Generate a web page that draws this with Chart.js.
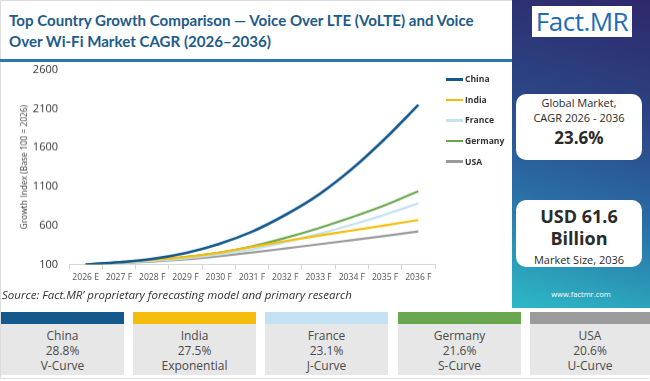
<!DOCTYPE html>
<html>
<head>
<meta charset="utf-8">
<script src="https://cdn.jsdelivr.net/npm/chart.js@4.4.1/dist/chart.umd.min.js"></script>
<style>
  html,body{margin:0;padding:0;}
  body{width:650px;height:381px;overflow:hidden;background:#fff;position:relative;font-family:"Open Sans",sans-serif;}
  #frame{position:absolute;left:0;top:0;width:649px;height:379px;border:1px solid #dcdcdc;border-right:none;box-sizing:border-box;}
  #title{position:absolute;left:9px;top:10px;width:505px;font-family:Lato,sans-serif;font-weight:700;font-size:15.1px;line-height:21px;color:#1d5b8a;white-space:nowrap;}
  #bar{position:absolute;left:0;top:59px;width:512px;height:3px;background:#2a77b2;}
  #panel{position:absolute;left:512px;top:0;width:138px;height:308px;background:linear-gradient(195deg,#2e286b 0%,#2b4484 35%,#2a6da6 65%,#2cbac6 100%);}
  #logo{position:absolute;left:20px;top:6px;width:100px;height:31px;background:#fff;color:#1f6db5;font-size:26px;line-height:31px;text-align:center;letter-spacing:-0.5px;}
  .card{position:absolute;left:4px;width:126px;background:#fff;border-radius:10px;text-align:center;color:#2a2a2a;}
  #c1{top:94px;height:66px;}
  #c2{top:200px;height:67px;}
  #www{position:absolute;left:0;top:289px;width:138px;text-align:center;color:#fff;font-size:7.5px;}
  #source{position:absolute;left:2px;top:287px;font-style:italic;font-size:11.5px;color:#333;}
  .bc{position:absolute;top:312px;width:123px;height:63px;background:#e7e7e7;text-align:center;color:#4a4a4a;font-size:12px;}
  .bc .hd{height:12px;}
  .bc .ln{line-height:15px;}
  #legend{position:absolute;left:446px;top:69px;}
  .li{height:20.6px;display:flex;align-items:center;font-size:8.6px;font-weight:700;color:#333;}
  .li span.sw{display:inline-block;width:17px;height:2.5px;margin-right:2px;}
  #wrap{position:absolute;left:0;top:52px;width:510px;height:235.5px;}
</style>
</head>
<body>
<div id="frame"></div>
<div id="title">Top Country Growth Comparison — Voice Over LTE (VoLTE) and Voice<br>Over Wi-Fi Market CAGR (2026–2036)</div>
<div id="bar"></div>
<div id="wrap"><canvas id="chart"></canvas></div>
<div id="legend"></div>
<div id="panel">
  <div id="logo">Fact.MR</div>
  <div class="card" id="c1">
    <div style="font-size:11px;line-height:15px;padding-top:1px;">Global Market,<br>CAGR 2026 - 2036</div>
    <div style="font-size:17px;font-weight:700;line-height:22px;margin-top:2px;">23.6%</div>
  </div>
  <div class="card" id="c2">
    <div style="font-size:18px;font-weight:700;line-height:22px;padding-top:5px;">USD 61.6<br>Billion</div>
    <div style="font-size:11px;line-height:15px;margin-top:3px;">Market Size, 2036</div>
  </div>
  <div id="www">www.factmr.com</div>
</div>
<div id="source">Source: Fact.MR’ proprietary forecasting model and primary research</div>
<div id="cards"></div>
<script>
const years = ['2026 E','2027 F','2028 F','2029 F','2030 F','2031 F','2032 F','2033 F','2034 F','2035 F','2036 F'];
const countries = ['China','India','France','Germany','USA'];
const china   = [100,128,170,245,360,520,735,995,1325,1715,2148];
const india   = [100,126,158,196,250,325,400,470,535,602,671];
const france  = [100,121,147,180,226,292,385,492,610,740,885];
const germany = [100,124,155,195,250,330,440,565,705,860,1040];
const usa     = [100,117,138,166,205,252,305,358,412,467,524];
const colors  = ['#14588c','#f5bd0c','#c5e2f4','#6aa84f','#9b9b9b'];
const cagr    = ['28.8%','27.5%','23.1%','21.6%','20.6%'];
const shapes  = ['V-Curve','Exponential','J-Curve','S-Curve','U-Curve'];
const yTicks  = [100,600,1100,1600,2100,2600];
const series  = [china,india,france,germany,usa];

const datasets = countries.map((c,i)=>({
  label:c, data:series[i], borderColor:colors[i], backgroundColor:colors[i],
  borderWidth: i===0?2.6:2.2, pointRadius:0, cubicInterpolationMode:'monotone', fill:false
}));

new Chart(document.getElementById('chart'),{
  type:'line',
  data:{labels:years,datasets:datasets},
  options:{
    responsive:true, maintainAspectRatio:false, animation:false,
    layout:{padding:{left:16,right:75,top:2,bottom:0}},
    plugins:{legend:{display:false},tooltip:{enabled:false}},
    scales:{
      x:{offset:true,
         afterFit:(ax)=>{ax.height=24;},
         grid:{display:true,drawOnChartArea:false,drawTicks:true,tickLength:5,offset:true,color:'#d6d6d6'},
         border:{display:true,color:'#d6d6d6',width:1},
         ticks:{color:'#555',font:{family:'Open Sans',size:8.6},maxRotation:0,autoSkip:false,padding:3}},
      y:{min:100,max:2600,
         afterBuildTicks:(ax)=>{ax.ticks=yTicks.map(v=>({value:v}));},
         afterFit:(ax)=>{ax.width=53;},
         grid:{display:false,drawTicks:false,tickLength:0},border:{display:false},
         ticks:{color:'#333',font:{family:'Open Sans',size:11},padding:11,callback:(v)=>String(v)},
         title:{display:true,text:'Growth Index (Base 100 = 2026)',color:'#444',font:{family:'Open Sans',size:8.4},padding:{top:4,bottom:4}}}
    }
  }
});

const lg=document.getElementById('legend');
countries.forEach((c,i)=>{
  const d=document.createElement('div');d.className='li';
  d.innerHTML='<span class="sw" style="background:'+colors[i]+'"></span>'+c;
  lg.appendChild(d);
});
const cards=document.getElementById('cards');
const lefts=[1,133,265,398,530];
countries.forEach((c,i)=>{
  const d=document.createElement('div');d.className='bc';d.style.left=lefts[i]+'px';
  if(i===4)d.style.width='120px';
  d.innerHTML='<div class="hd" style="background:'+colors[i]+'"></div><div class="ln" style="margin-top:4px">'+c+'</div><div class="ln">'+cagr[i]+'</div><div class="ln">'+shapes[i]+'</div>';
  cards.appendChild(d);
});
</script>
</body>
</html>
